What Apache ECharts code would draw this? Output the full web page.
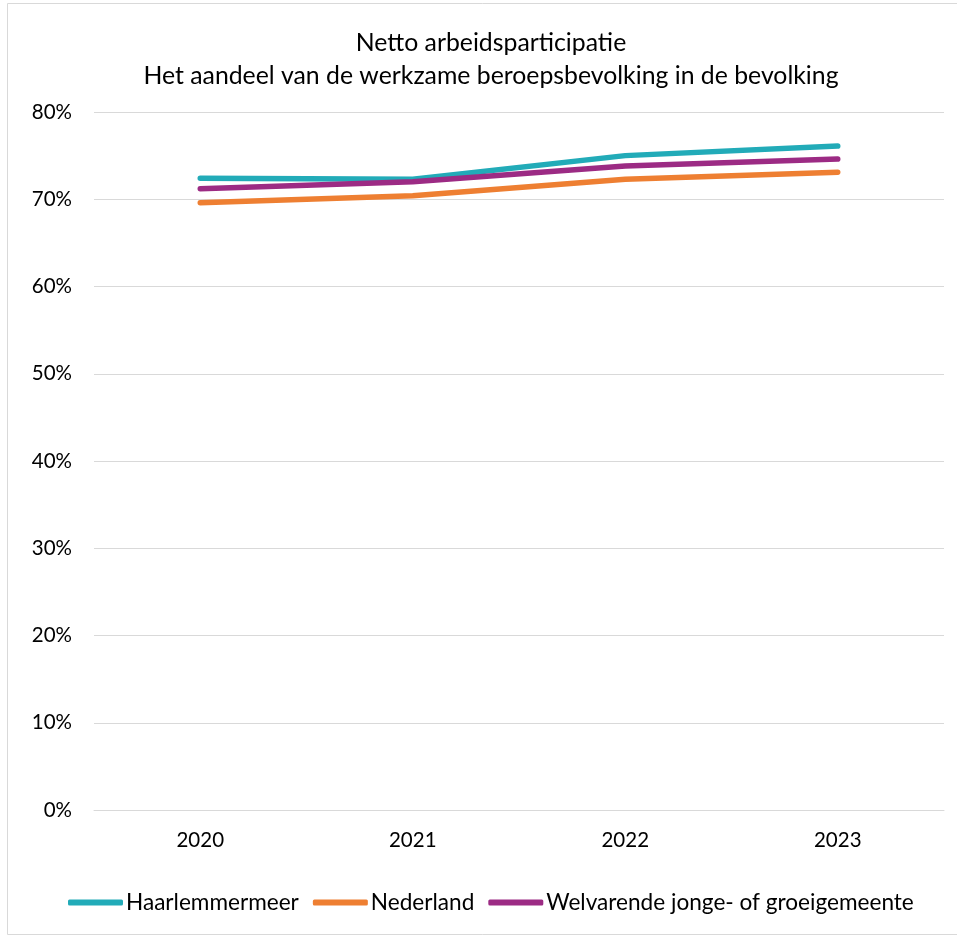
<!DOCTYPE html>
<html><head><meta charset="utf-8">
<script src="https://cdn.jsdelivr.net/npm/echarts@6/dist/echarts.min.js"></script>
<style>html,body{margin:0;padding:0;background:#fff}#c{width:957px;height:936px}</style>
</head><body><div id="c"></div>
<script>
const years = ['2020','2021','2022','2023'];
const haarlemmermeer = [72.4, 72.3, 75.0, 76.1];
const nederland = [69.6, 70.4, 72.3, 73.1];
const welvarende = [71.2, 72.0, 73.8, 74.6];
const seriesNames = ['Haarlemmermeer','Nederland','Welvarende jonge- of groeigemeente'];
const colors = ['#22ABB8','#EE7F32','#9C2B84'];
const font = 'Lato, "Noto Sans", sans-serif';
const chart = echarts.init(document.getElementById('c'));
const mk = (name, data, color) => ({
  name, type:'line', data, symbol:'none', smooth:false,
  lineStyle:{width:5.5, color, cap:'round', join:'round'}, itemStyle:{color}
});
chart.setOption({
  animation:false,
  textStyle:{fontFamily:font},
  title:{
    text:'Netto arbeidsparticipatie\nHet aandeel van de werkzame beroepsbevolking in de bevolking',
    left:486, top:22, textAlign:'center',
    textStyle:{fontFamily:font, fontSize:24.8, fontWeight:'normal', color:'#000', lineHeight:33}
  },
  graphic:[{type:'rect', shape:{x:7.5,y:3.5,width:960,height:931}, style:{fill:'none', stroke:'#d9d9d9', lineWidth:1}, silent:true}],
  legend:{
    top:886, left:63, itemWidth:55, itemHeight:6, itemGap:14,
    icon:'roundRect',
    textStyle:{fontFamily:font, fontSize:22.6, color:'#000', padding:[0,0,0,-2]},
    data:seriesNames
  },
  grid:{left:94, right:13, top:112, bottom:126},
  xAxis:{
    type:'category', data:years, boundaryGap:true,
    axisLine:{lineStyle:{color:'#d9d9d9', width:1}}, axisTick:{show:false},
    axisLabel:{color:'#000', fontSize:20.5, margin:20, fontFamily:font}
  },
  yAxis:{
    type:'value', min:0, max:80, interval:10,
    axisLabel:{formatter:'{value}%', color:'#000', fontSize:20.5, margin:22, fontFamily:font},
    splitLine:{lineStyle:{color:'#d9d9d9', width:1}},
    axisLine:{show:false}, axisTick:{show:false}
  },
  series:[mk(seriesNames[0], haarlemmermeer, colors[0]), mk(seriesNames[1], nederland, colors[1]), mk(seriesNames[2], welvarende, colors[2])]
});
</script></body></html>
